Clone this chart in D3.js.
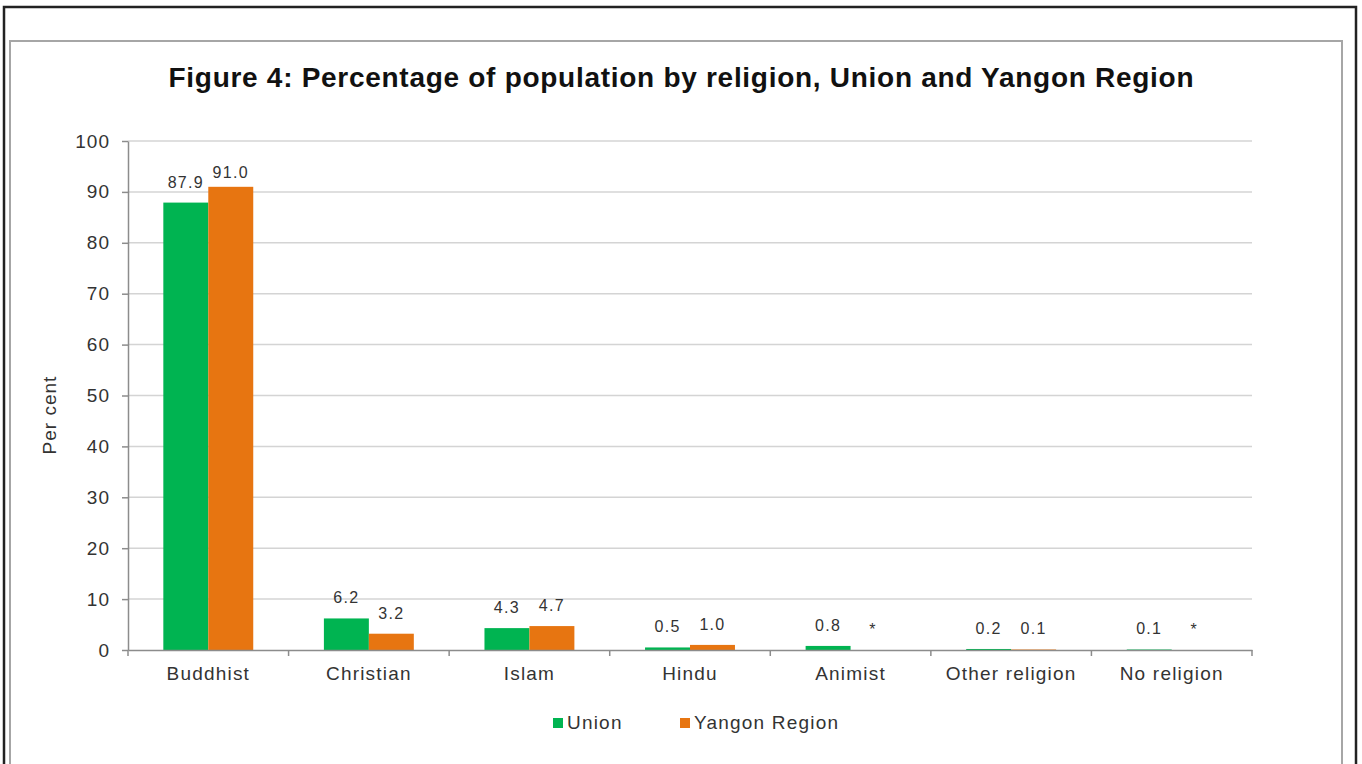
<!DOCTYPE html>
<html>
<head>
<meta charset="utf-8">
<script src="https://cdn.jsdelivr.net/npm/d3@7"></script>
<style>
  body { margin: 0; background: #fff; }
  text { font-family: "Liberation Sans", Arial, sans-serif; }
</style>
</head>
<body>
<div id="chart"></div>
<script>
// Dados
const categorias = ["Buddhist", "Christian", "Islam", "Hindu", "Animist", "Other religion", "No religion"];
const series = ["Union", "Yangon Region"];
const union = [87.9, 6.2, 4.3, 0.5, 0.8, 0.2, 0.1];
const yangon = [91.0, 3.2, 4.7, 1.0, null, 0.1, null]; // null = "*"
const yTicks = [0, 10, 20, 30, 40, 50, 60, 70, 80, 90, 100];
const cores = ["#00b451", "#e77511"];

const width = 1362;
const height = 764;
const marginLeft = 128;
const marginRight = 110;
const plotTop = 141;
const plotBottom = 650;

const svg = d3.select("#chart").append("svg")
    .attr("width", width)
    .attr("height", height);

// Moldura externa (preta) e interna (cinza)
svg.append("rect")
    .attr("x", 4).attr("y", 7)
    .attr("width", 1352).attr("height", 800)
    .attr("fill", "none").attr("stroke", "#222").attr("stroke-width", 2.5);
svg.append("rect")
    .attr("x", 10).attr("y", 41)
    .attr("width", 1332).attr("height", 800)
    .attr("fill", "none").attr("stroke", "#a6a6a6").attr("stroke-width", 2);

// Escalas
const x0 = d3.scaleBand().domain(categorias).range([marginLeft, width - marginRight]);
const inset = x0.bandwidth() * 0.22;
const x1 = d3.scaleBand().domain(series).range([inset, x0.bandwidth() - inset]);
const y = d3.scaleLinear().domain([0, 100]).range([plotBottom, plotTop]);

// Linhas de grade
svg.append("g")
    .selectAll("line")
    .data(yTicks.filter(d => d > 0))
    .join("line")
    .attr("x1", marginLeft).attr("x2", width - marginRight)
    .attr("y1", d => y(d)).attr("y2", d => y(d))
    .attr("stroke", "#d4d4d4").attr("stroke-width", 1.5);

// Barras
const dados = categorias.map((c, i) => ({ cat: c, valores: [union[i], yangon[i]] }));
const grupos = svg.append("g")
    .selectAll("g")
    .data(dados)
    .join("g")
    .attr("transform", d => `translate(${x0(d.cat)},0)`);

grupos.selectAll("rect")
    .data(d => d.valores.map((v, j) => ({ s: series[j], v, j })))
    .join("rect")
    .attr("x", d => x1(d.s))
    .attr("width", x1.bandwidth())
    .attr("y", d => y(d.v || 0))
    .attr("height", d => plotBottom - y(d.v || 0))
    .attr("fill", d => cores[d.j]);

// Rótulos de dados
grupos.selectAll("text")
    .data(d => d.valores.map((v, j) => ({ s: series[j], v, j })))
    .join("text")
    .attr("x", d => x1(d.s) + x1.bandwidth() / 2)
    .attr("y", d => y(d.v || 0) - (d.v > 90 ? 9 : 15))
    .attr("text-anchor", "middle")
    .attr("font-size", 16)
    .attr("letter-spacing", 1.3)
    .attr("fill", "#333")
    .text(d => d.v == null ? "*" : d3.format(".1f")(d.v));

// Eixo Y
const eixoY = svg.append("g")
    .attr("transform", `translate(${marginLeft},0)`)
    .call(d3.axisLeft(y).tickValues(yTicks).tickSize(6).tickPadding(12).tickSizeOuter(0));
eixoY.select(".domain").attr("stroke", "#8c8c8c").attr("stroke-width", 1.5);
eixoY.selectAll(".tick line").attr("stroke", "#8c8c8c").attr("stroke-width", 1.5);
eixoY.selectAll(".tick text")
    .attr("font-size", 19).attr("letter-spacing", 1).attr("fill", "#333")
    .attr("font-family", "Liberation Sans, Arial, sans-serif");

// Eixo X
const eixoX = svg.append("g")
    .attr("transform", `translate(0,${plotBottom})`)
    .call(d3.axisBottom(x0).tickSize(0).tickPadding(17).tickSizeOuter(0));
eixoX.select(".domain").attr("stroke", "#8c8c8c").attr("stroke-width", 1.5);
eixoX.selectAll(".tick text")
    .attr("font-size", 19).attr("letter-spacing", 1.2).attr("fill", "#333")
    .attr("font-family", "Liberation Sans, Arial, sans-serif");

// Marcas entre categorias
svg.append("g")
    .selectAll("line")
    .data(categorias.map(c => x0(c)).concat([width - marginRight]))
    .join("line")
    .attr("x1", d => d).attr("x2", d => d)
    .attr("y1", plotBottom).attr("y2", plotBottom + 6)
    .attr("stroke", "#8c8c8c").attr("stroke-width", 1.5);

// Título do eixo Y
svg.append("text")
    .attr("transform", `translate(56,415) rotate(-90)`)
    .attr("text-anchor", "middle")
    .attr("font-size", 19)
    .attr("letter-spacing", 1)
    .attr("fill", "#333")
    .text("Per cent");

// Título
svg.append("text")
    .attr("x", 681).attr("y", 87)
    .attr("text-anchor", "middle")
    .attr("font-size", 28)
    .attr("font-weight", "bold")
    .attr("fill", "#111")
    .attr("textLength", 1025)
    .attr("lengthAdjust", "spacing")
    .text("Figure 4: Percentage of population by religion, Union and Yangon Region");

// Legenda
const legX = [553, 680];
const legenda = svg.append("g")
    .selectAll("g")
    .data(series)
    .join("g")
    .attr("transform", (d, i) => `translate(${legX[i]},718)`);
legenda.append("rect")
    .attr("width", 10).attr("height", 10)
    .attr("fill", (d, i) => cores[i]);
legenda.append("text")
    .attr("x", 14).attr("y", 11)
    .attr("font-size", 19)
    .attr("letter-spacing", 1.2)
    .attr("fill", "#333")
    .text(d => d);
</script>
</body>
</html>
